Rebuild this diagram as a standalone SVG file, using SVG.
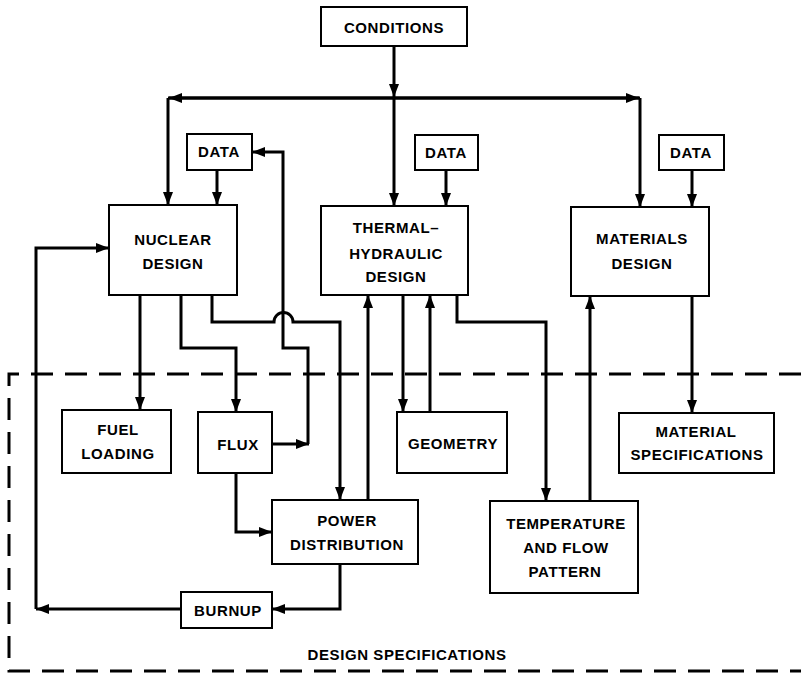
<svg xmlns="http://www.w3.org/2000/svg" width="801" height="674" viewBox="0 0 801 674">
<style>
.box{fill:#fff;stroke:#000;stroke-width:2}
.c{fill:none;stroke:#000;stroke-width:3}
.a{marker-end:url(#ah)}
text{font-family:"Liberation Sans",Arial,sans-serif;font-size:15px;font-weight:bold;letter-spacing:0.6px;text-anchor:middle;fill:#000}
.dash{fill:none;stroke:#000;stroke-width:3;stroke-dasharray:22 12}
</style>
<defs>
<marker id="ah" markerUnits="userSpaceOnUse" markerWidth="14" markerHeight="10" refX="13" refY="5" orient="auto">
<path d="M0,0 L13,5 L0,10 z" fill="#000"/>
</marker>
</defs>
<rect width="801" height="674" fill="#fff"/>
<g id="boundary">
<path class="dash" d="M801,374 H9 V671 H801"/>
<text x="407" y="660">DESIGN SPECIFICATIONS</text>
</g>
<g id="connectors">
<path class="c a" d="M394,46 V97"/>
<path class="c" d="M168,98 H640"/>
<path class="c a" d="M394,98 H169"/>
<path class="c a" d="M394,98 H639"/>
<path class="c a" d="M168,98 V205"/>
<path class="c a" d="M640,98 V207"/>
<path class="c a" d="M394,98 V206"/>
<path class="c a" d="M217,170 V205"/>
<path class="c a" d="M446,170 V206"/>
<path class="c a" d="M692,170 V207"/>
<path class="c a" d="M140,295 V410"/>
<path class="c a" d="M181,295 V348 H236 V412"/>
<path class="c a" d="M212,295 V322 H274 A9.5,9.5 0 0 1 293,322 H340 V500"/>
<path class="c a" d="M272,444 H309"/>
<path class="c a" d="M308,444 V348 H283 V152 H252"/>
<path class="c a" d="M236,473 V532 H272"/>
<path class="c a" d="M368,500 V295"/>
<path class="c a" d="M340,564 V609 H272"/>
<path class="c a" d="M181,609 H36"/>
<path class="c a" d="M36,609 V248 H109"/>
<path class="c a" d="M403,295 V412"/>
<path class="c a" d="M430,412 V295"/>
<path class="c a" d="M457,295 V322 H546 V501"/>
<path class="c a" d="M590,501 V296"/>
<path class="c a" d="M692,296 V413"/>
</g>
<g id="conditions"><rect class="box" x="321" y="7" width="146" height="39"/><text x="394" y="33">CONDITIONS</text></g>
<g id="data-nuclear"><rect class="box" x="187" y="134" width="65" height="36"/><text x="219" y="157">DATA</text></g>
<g id="data-thermal"><rect class="box" x="415" y="135" width="63" height="35"/><text x="446" y="158">DATA</text></g>
<g id="data-materials"><rect class="box" x="659" y="135" width="65" height="35"/><text x="691" y="158">DATA</text></g>
<g id="nuclear-design"><rect class="box" x="109" y="205" width="128" height="90"/><text x="173" y="245">NUCLEAR</text><text x="173" y="269">DESIGN</text></g>
<g id="thermal-hydraulic-design"><rect class="box" x="321" y="206" width="147" height="89"/><text x="396" y="233">THERMAL–</text><text x="396" y="259">HYDRAULIC</text><text x="396" y="282">DESIGN</text></g>
<g id="materials-design"><rect class="box" x="571" y="207" width="138" height="89"/><text x="642" y="244">MATERIALS</text><text x="642" y="269">DESIGN</text></g>
<g id="fuel-loading"><rect class="box" x="62" y="410" width="109" height="63"/><text x="118" y="435">FUEL</text><text x="118" y="459">LOADING</text></g>
<g id="flux"><rect class="box" x="198" y="412" width="74" height="61"/><text x="238" y="450">FLUX</text></g>
<g id="geometry"><rect class="box" x="397" y="412" width="110" height="61"/><text x="453" y="449">GEOMETRY</text></g>
<g id="material-specifications"><rect class="box" x="619" y="413" width="155" height="60"/><text x="696" y="437">MATERIAL</text><text x="697" y="460">SPECIFICATIONS</text></g>
<g id="power-distribution"><rect class="box" x="272" y="500" width="146" height="64"/><text x="347" y="526">POWER</text><text x="347" y="550">DISTRIBUTION</text></g>
<g id="temperature-flow"><rect class="box" x="490" y="501" width="148" height="92"/><text x="566" y="529">TEMPERATURE</text><text x="566" y="553">AND FLOW</text><text x="565" y="577">PATTERN</text></g>
<g id="burnup"><rect class="box" x="181" y="592" width="91" height="36"/><text x="228" y="616">BURNUP</text></g>
</svg>
